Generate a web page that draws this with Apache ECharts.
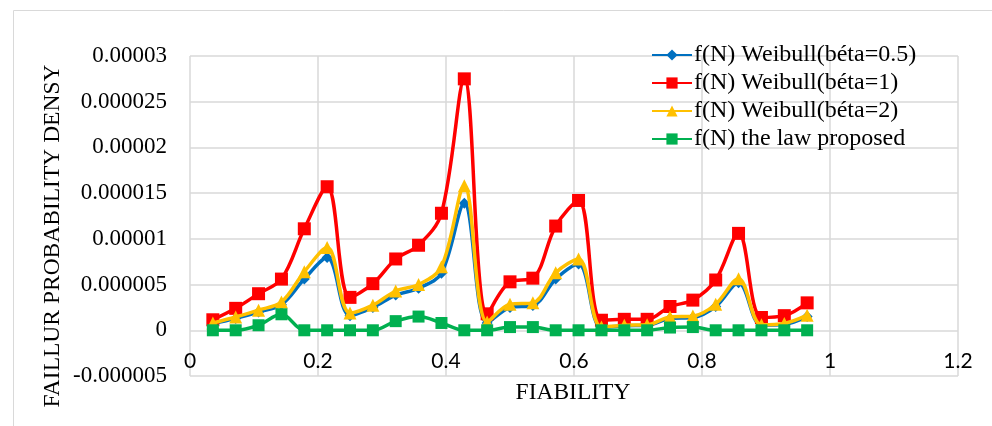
<!DOCTYPE html>
<html>
<head>
<meta charset="utf-8">
<script src="https://cdn.jsdelivr.net/npm/echarts@6/dist/echarts.min.js"></script>
<style>
html,body{margin:0;padding:0;background:#fff;}
#chart{width:992px;height:426px;}
</style>
</head>
<body>
<div id="chart"></div>
<script>
// Reliability values (x)
const fiability = [0.0357, 0.0714, 0.1071, 0.1429, 0.1786, 0.2143, 0.25, 0.2857, 0.3214, 0.3571,
  0.3929, 0.4286, 0.4643, 0.5, 0.5357, 0.5714, 0.6071, 0.6429, 0.6786, 0.7143,
  0.75, 0.7857, 0.8214, 0.8571, 0.8929, 0.9286, 0.9643];

const weibull05 = [0.7e-6, 1.3e-6, 2.0e-6, 2.8e-6, 5.6e-6, 7.95e-6, 1.6e-6, 2.5e-6, 3.85e-6, 4.6e-6,
  6.25e-6, 13.9e-6, 0.8e-6, 2.5e-6, 2.7e-6, 5.6e-6, 7.25e-6, 0.3e-6, 0.5e-6, 0.55e-6,
  1.3e-6, 1.4e-6, 2.6e-6, 5.2e-6, 0.55e-6, 0.65e-6, 1.5e-6];

const weibull1 = [1.15e-6, 2.4e-6, 4.0e-6, 5.6e-6, 11.1e-6, 15.7e-6, 3.6e-6, 5.1e-6, 7.8e-6, 9.3e-6,
  12.8e-6, 27.5e-6, 1.8e-6, 5.3e-6, 5.7e-6, 11.4e-6, 14.2e-6, 1.1e-6, 1.2e-6, 1.2e-6,
  2.6e-6, 3.3e-6, 5.5e-6, 10.6e-6, 1.4e-6, 1.6e-6, 3.0e-6];

const weibull2 = [0.8e-6, 1.45e-6, 2.2e-6, 3.1e-6, 6.4e-6, 9.05e-6, 1.9e-6, 2.75e-6, 4.3e-6, 5.0e-6,
  6.95e-6, 15.8e-6, 0.9e-6, 2.85e-6, 3.0e-6, 6.3e-6, 7.8e-6, 0.35e-6, 0.55e-6, 0.6e-6,
  1.45e-6, 1.55e-6, 2.85e-6, 5.65e-6, 0.6e-6, 0.75e-6, 1.65e-6];

const proposed = [0, 0, 0.55e-6, 1.75e-6, 0, 0, 0, 0, 1.0e-6, 1.5e-6,
  0.8e-6, 0, 0, 0.35e-6, 0.35e-6, 0, 0, 0, 0, 0,
  0.3e-6, 0.35e-6, 0, 0, 0, 0, 0];

const seriesNames = ['f(N) Weibull(béta=0.5)', 'f(N) Weibull(béta=1)', 'f(N) Weibull(béta=2)', 'f(N) the law proposed'];
const xTickLabels = ['0', '0.2', '0.4', '0.6', '0.8', '1', '1.2'];
const yTickLabels = ['-0.000005', '0', '0.000005', '0.00001', '0.000015', '0.00002', '0.000025', '0.00003'];

const pair = (ys) => fiability.map((x, i) => [x, ys[i]]);
const serif = 'Liberation Serif, Times New Roman, serif';

const chart = echarts.init(document.getElementById('chart'), null, {renderer: 'canvas'});
const mk = (name, ys, color, symbol, size, z) => ({
  name, type: 'line', data: pair(ys), smooth: 0.35,
  symbol, symbolSize: size, z,
  lineStyle: {color, width: 3.5},
  itemStyle: {color},
  emphasis: {disabled: true}
});
chart.setOption({
  animation: false,
  grid: {left: 190, right: 34, top: 56, bottom: 50, containLabel: false},
  legend: {
    orient: 'vertical', left: 646, top: 38, itemWidth: 40, itemHeight: 14, itemGap: 4,
    textStyle: {fontFamily: serif, fontSize: 24, color: '#000', padding: [0,0,0,-3]},
    data: seriesNames
  },
  xAxis: {
    type: 'value', min: 0, max: 1.2, interval: 0.2,
    offset: -46,
    axisLine: {show: false, onZero: false},
    axisTick: {show: false},
    axisLabel: {margin: 21, fontFamily: 'Lato, sans-serif', fontSize: 21, color: '#000',
      formatter: (v) => xTickLabels[Math.round(v / 0.2)]},
    splitLine: {show: true, lineStyle: {color: '#d9d9d9', width: 1.5}}
  },
  yAxis: {
    type: 'value', min: -0.000005, max: 0.00003, interval: 0.000005,
    axisLine: {show: false}, axisTick: {show: false},
    axisLabel: {margin: 23, fontFamily: serif, fontSize: 23, color: '#000',
      formatter: (v) => yTickLabels[Math.round(v / 0.000005) + 1]},
    splitLine: {show: true, lineStyle: {color: '#d9d9d9', width: 1.5}}
  },
  graphic: [
    {type: 'rect', shape: {x: 13.5, y: 10.5, width: 2000, height: 2000}, style: {fill: 'none', stroke: '#d9d9d9', lineWidth: 1}, silent: true},
    {type: 'text', x: 573, y: 393, style: {text: 'FIABILITY', font: '23.5px ' + serif, fill: '#000', align: 'center', verticalAlign: 'middle'}},
    {type: 'text', x: 53, y: 236, rotation: Math.PI / 2, style: {text: 'FAILLUR PROBABILITY DENSY', font: '23.5px ' + serif, fill: '#000', align: 'center', verticalAlign: 'middle'}}
  ],
  series: [
    mk(seriesNames[0], weibull05, '#0070C0', 'diamond', 11, 2),
    mk(seriesNames[1], weibull1, '#FF0000', 'rect', 13, 3),
    mk(seriesNames[2], weibull2, '#FFC000', 'triangle', 13, 4),
    mk(seriesNames[3], proposed, '#00B050', 'rect', 12, 5)
  ]
});
</script>
</body>
</html>
